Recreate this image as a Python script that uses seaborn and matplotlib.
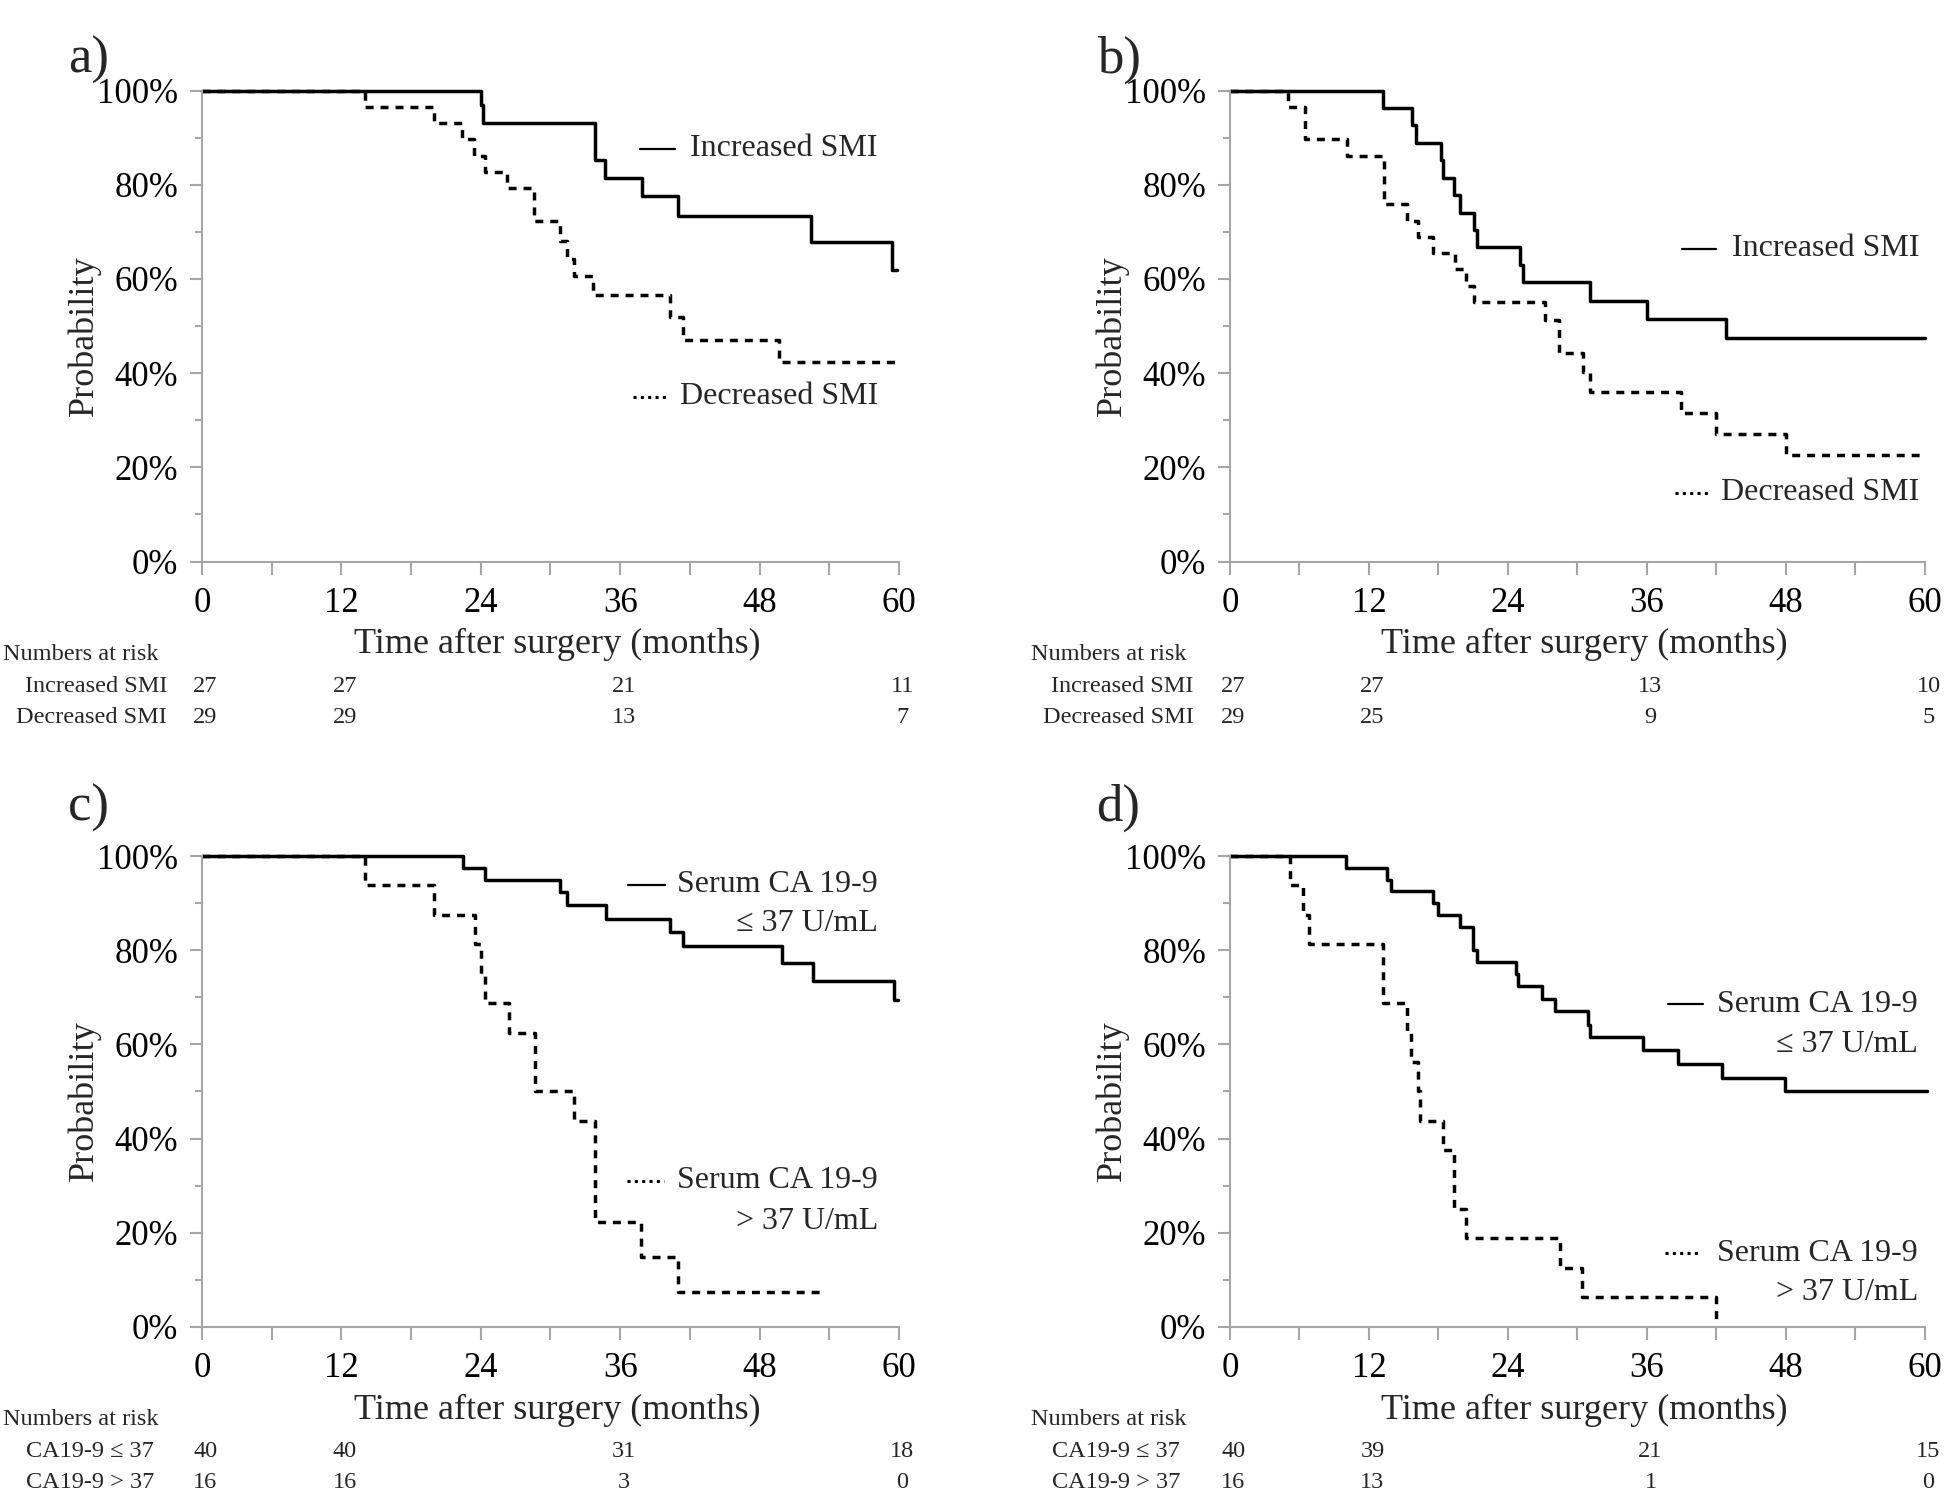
import matplotlib
matplotlib.use("Agg")
import matplotlib.pyplot as plt
import matplotlib.transforms as mtransforms
from matplotlib.lines import Line2D
from matplotlib.ticker import MultipleLocator, FuncFormatter
import seaborn as sns

# Kaplan-Meier estimates (time in months, survival in %)
# a) Increased vs decreased SMI
a_inc_t = [0, 24.0, 24.2, 33.8, 34.7, 37.9, 41.0, 52.4, 59.4, 59.8]
a_inc_s = [100, 96.9, 93.2, 85.3, 81.5, 77.6, 73.4, 67.9, 62.0, 62.0]
a_dec_t = [0, 14.0, 20.0, 22.4, 23.4, 24.4, 26.3, 28.6, 30.8, 31.4, 32.0, 33.7, 40.3, 41.4, 49.7, 60.0]
a_dec_s = [100, 96.6, 93.1, 89.7, 86.2, 82.8, 79.3, 72.4, 68.0, 64.2, 60.6, 56.6, 52.0, 47.1, 42.4, 42.4]

# b) Increased vs decreased SMI
b_inc_t = [0, 13.2, 15.7, 16.1, 18.2, 18.4, 19.3, 19.9, 21.1, 21.3, 25.0, 25.3, 31.1, 36.0, 42.8, 60.0]
b_inc_s = [100, 96.3, 92.6, 88.9, 85.2, 81.5, 77.8, 74.1, 70.4, 66.7, 63.0, 59.3, 55.3, 51.4, 47.4, 47.4]
b_dec_t = [0, 5.0, 6.5, 10.1, 13.3, 15.3, 16.2, 17.5, 19.4, 20.4, 21.1, 27.2, 28.4, 30.5, 31.1, 38.9, 42.0, 48.0, 60.0]
b_dec_s = [100, 96.6, 89.7, 86.2, 75.9, 72.4, 69.0, 65.5, 62.1, 58.6, 55.2, 51.3, 44.2, 40.2, 36.1, 31.6, 27.1, 22.6, 22.6]

# c) Serum CA 19-9
c_low_t = [0, 22.5, 24.4, 30.8, 31.4, 34.8, 40.3, 41.4, 49.9, 52.6, 59.6, 59.9]
c_low_s = [100, 97.5, 95.0, 92.3, 89.5, 86.7, 83.8, 80.9, 77.2, 73.5, 69.5, 69.5]
c_high_t = [0, 14.0, 20.0, 23.5, 24.0, 24.4, 26.4, 28.7, 32.0, 33.8, 37.8, 41.0, 53.4]
c_high_s = [100, 93.8, 87.5, 81.3, 75.0, 68.8, 62.5, 50.0, 43.8, 22.3, 14.9, 7.4, 7.4]

# d) Serum CA 19-9
d_low_t = [0, 10.0, 13.6, 13.9, 17.5, 18.0, 19.9, 21.0, 21.3, 24.7, 24.9, 26.9, 28.1, 30.9, 31.1, 35.7, 38.7, 42.5, 47.9, 60.2]
d_low_s = [100, 97.5, 95.0, 92.5, 90.0, 87.5, 85.0, 80.0, 77.5, 75.0, 72.3, 69.7, 67.0, 64.2, 61.5, 58.8, 55.8, 52.9, 50.0, 50.0]
d_high_t = [0, 5.2, 6.3, 6.8, 13.2, 15.3, 15.6, 16.2, 16.4, 18.4, 19.3, 20.4, 28.5, 30.4, 42.0]
d_high_s = [100, 93.8, 87.5, 81.3, 68.8, 62.5, 56.3, 50.0, 43.8, 37.5, 25.0, 18.8, 12.5, 6.3, 0.0]

# numbers at risk
risk_months = [0, 12, 36, 60]
smi_groups = ["Increased SMI", "Decreased SMI"]
ca_groups = ["CA19-9 \u2264 37", "CA19-9 > 37"]
a_risk = [[27, 27, 21, 11], [29, 29, 13, 7]]
b_risk = [[27, 27, 13, 10], [29, 25, 9, 5]]
c_risk = [[40, 40, 31, 18], [16, 16, 3, 0]]
d_risk = [[40, 39, 21, 15], [16, 13, 1, 0]]

smi_legend = ["Increased SMI", "Decreased SMI"]
ca_legend = [["Serum CA 19-9", "\u2264 37 U/mL"], ["Serum CA 19-9", "> 37 U/mL"]]

sns.set_style("ticks")
plt.rcParams["font.family"] = ["Liberation Serif", "DejaVu Serif"]

GRAY = "#a6a6a6"
LW = 2.5
DASH = (0, (2.3, 2.0))


def km_panel(ax, letter, letter_y, t1, s1, t2, s2, groups, risk, label_x,
             legend, leg1, leg2):
    sns.lineplot(x=t1, y=s1, ax=ax, estimator=None, sort=False, color="black",
                 linewidth=LW, drawstyle="steps-post", clip_on=False)
    sns.lineplot(x=t2, y=s2, ax=ax, estimator=None, sort=False, color="black",
                 linewidth=LW, linestyle=DASH, drawstyle="steps-post", clip_on=False)

    ax.set_xlim(0, 60)
    ax.set_ylim(0, 100)
    ax.xaxis.set_major_locator(MultipleLocator(12))
    ax.xaxis.set_minor_locator(MultipleLocator(6))
    ax.yaxis.set_major_locator(MultipleLocator(20))
    ax.yaxis.set_minor_locator(MultipleLocator(10))
    ax.yaxis.set_major_formatter(FuncFormatter(lambda v, p: f"{v:.0f}%"))
    sns.despine(ax=ax)
    for side in ["left", "bottom"]:
        ax.spines[side].set_color(GRAY)
        ax.spines[side].set_linewidth(1.5)
    ax.tick_params(which="both", direction="out", color=GRAY, width=1.5,
                   labelcolor="black")
    ax.tick_params(axis="x", which="both", length=9, labelsize=25, pad=9)
    ax.tick_params(axis="y", which="major", length=9, labelsize=25, pad=8)
    ax.tick_params(axis="y", which="minor", length=5)

    ax.set_xlabel("Time after surgery (months)", fontsize=26)
    ax.set_ylabel("Probability", fontsize=26)
    ax.xaxis.label.set_va("center")
    ax.yaxis.label.set_va("center")
    ax.xaxis.set_label_coords(0.51, -0.177)
    ax.yaxis.set_label_coords(-0.169, 0.48)

    ax.text(-0.192, letter_y, letter, transform=ax.transAxes, fontsize=38,
            ha="left", va="center")

    # numbers at risk table
    tr = mtransforms.blended_transform_factory(ax.transData, ax.transAxes)
    ax.text(-0.286, -0.197, "Numbers at risk", transform=ax.transAxes,
            fontsize=17.5, ha="left", va="center")
    for row_y, name, counts in zip([-0.265, -0.33], groups, risk):
        ax.text(label_x, row_y, name, transform=ax.transAxes, fontsize=17.5,
                ha="right", va="center")
        for m, n in zip(risk_months, counts):
            ax.text(m + 0.3, row_y, str(n), transform=tr, fontsize=17.5,
                    ha="center", va="center")

    # inline legend
    for lines, (x0, x1, xr, ys), style in zip(legend, [leg1, leg2],
                                              ["-", (0, (1, 1.4))]):
        ax.add_line(Line2D([x0, x1], [ys[0], ys[0]], color="black",
                           linewidth=1.6 if style == "-" else 2.2,
                           linestyle=style, clip_on=False))
        if isinstance(lines, str):
            lines = [lines]
        for txt, yy in zip(lines, ys):
            ax.text(xr, yy, txt, fontsize=23, ha="right", va="center")


fig = plt.figure(figsize=(19.44, 14.90), dpi=100)
ax_a = fig.add_axes([0.1039, 0.6231, 0.3585, 0.3161])
ax_b = fig.add_axes([0.6327, 0.6231, 0.3575, 0.3161])
ax_c = fig.add_axes([0.1039, 0.1094, 0.3585, 0.3161])
ax_d = fig.add_axes([0.6327, 0.1094, 0.3575, 0.3161])

km_panel(ax_a, "a)", 1.066, a_inc_t, a_inc_s, a_dec_t, a_dec_s, smi_groups, a_risk,
         -0.05, smi_legend, (37.7, 40.7, 58.2, [87.6]), (37.1, 40.1, 58.2, [35.0]))
km_panel(ax_b, "b)", 1.066, b_inc_t, b_inc_s, b_dec_t, b_dec_s, smi_groups, b_risk,
         -0.052, smi_legend, (39.0, 42.0, 59.5, [66.4]), (38.4, 41.4, 59.5, [14.6]))
km_panel(ax_c, "c)", 1.103, c_low_t, c_low_s, c_high_t, c_high_s, ca_groups, c_risk,
         -0.069, ca_legend, (36.7, 39.9, 58.2, [93.9, 85.7]), (36.6, 39.8, 58.2, [31.0, 22.4]))
km_panel(ax_d, "d)", 1.103, d_low_t, d_low_s, d_high_t, d_high_s, ca_groups, d_risk,
         -0.072, ca_legend, (37.8, 40.8, 59.4, [68.5, 60.0]), (37.6, 40.6, 59.4, [15.7, 7.4]))

fig.savefig("out.png", dpi=100, facecolor="white")
